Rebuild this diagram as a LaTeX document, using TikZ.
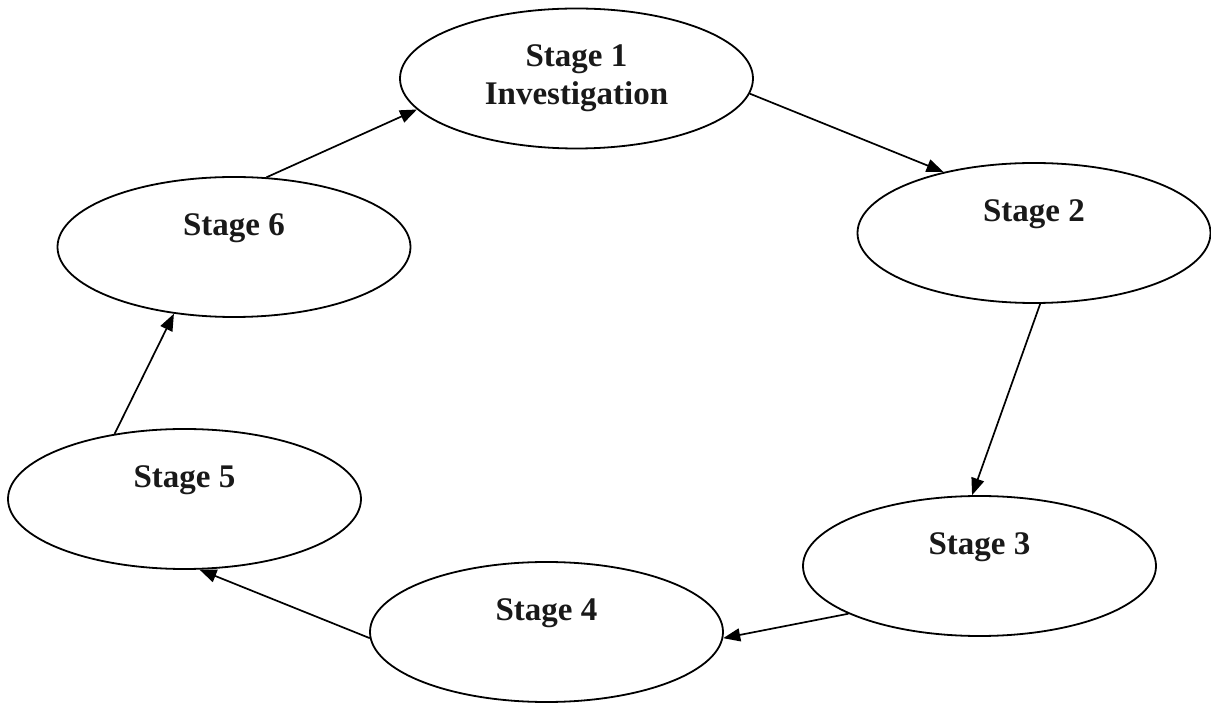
\documentclass[tikz,border=0pt]{standalone}
\usepackage{fontspec}
\setmainfont{Liberation Serif}
\usetikzlibrary{shapes.geometric,arrows.meta}
\tikzset{
  stagebox/.style={draw=black, line width=1.8pt, ellipse, inner sep=0pt,
    minimum width=353pt, minimum height=140pt,
    font=\fontsize{33}{38}\selectfont\bfseries, text=black!90},
  oneline/.style={text height=22pt, text depth=44pt},
  flow/.style={line width=1.7pt, -{Triangle[length=17pt,width=13pt]}}
}
\begin{document}
\begin{tikzpicture}[x=1pt,y=1pt]
\useasboundingbox (0,0) rectangle (1211,702);
\node[stagebox, align=center] (s1) at (576.5,623.5) {Stage 1\\Investigation};
\node[stagebox, oneline] (s2) at (1034,469) {Stage 2};
\node[stagebox, oneline] (s3) at (979.5,136) {Stage 3};
\node[stagebox, oneline] (s4) at (546.5,70) {Stage 4};
\node[stagebox, oneline] (s5) at (184.5,203) {Stage 5};
\node[stagebox, oneline] (s6) at (234,455) {Stage 6};
\draw[flow] (s1.355.3) -- (s2.146.5);
\draw[flow] (s2.275.5) -- (s3.96.3);
\draw[flow] (s3.200) -- (s4.-2.3);
\draw[flow] (s4.182.6) -- (s5.282);
\draw[flow] (s5.137.8) -- (s6.228.6);
\draw[flow] (s6.65.1) -- (s1.191.9);
\end{tikzpicture}
\end{document}
